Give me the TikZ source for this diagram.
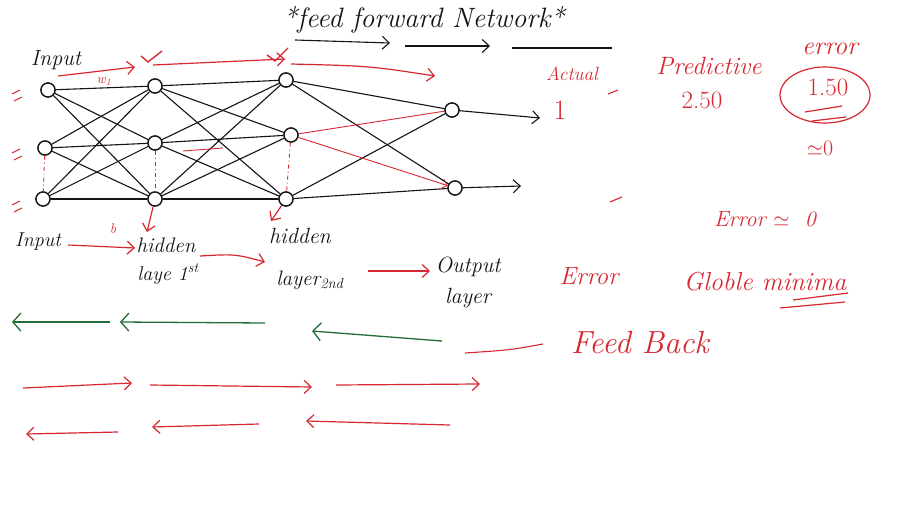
\documentclass[tikz,border=0pt]{standalone}
\usepackage{fontspec}
\usetikzlibrary{arrows.meta}
\definecolor{inkred}{RGB}{215,40,50}
\definecolor{inkgreen}{RGB}{35,110,55}
\definecolor{inkblack}{RGB}{20,20,20}
\tikzset{
  neuron/.style={circle,draw=inkblack,line width=1.3pt,minimum size=14pt,inner sep=0pt,fill=white},
  wire/.style={draw=inkblack,line width=1.1pt},
  redwire/.style={draw=inkred,line width=0.9pt},
  tip/.style={-{Straight Barb[length=7pt,width=13pt]}},
  redarr/.style={draw=inkred,line width=1.2pt,tip},
  greenarr/.style={draw=inkgreen,line width=1.3pt,-{Straight Barb[length=8pt,width=18pt]}},
  blk/.style={text=inkblack,font=\itshape\fontsize{21}{23}\selectfont,inner sep=1pt},
  rd/.style={text=inkred,inner sep=1pt},
  vdots/.style={draw=inkred,line width=0.9pt,dash pattern=on 4pt off 3pt on 1pt off 3pt},
}
\begin{document}
\begin{tikzpicture}[x=1pt,y=-1pt]
\useasboundingbox (0,0) rectangle (905,506);
\fill[white] (0,0) rectangle (905,506);
% ---------- neurons ----------
\node[neuron] (i1) at (48,90) {};
\node[neuron] (i2) at (45,148) {};
\node[neuron] (i3) at (43,199) {};
\node[neuron] (h1) at (155,86) {};
\node[neuron] (h2) at (155,143) {};
\node[neuron] (h3) at (155,199) {};
\node[neuron] (g1) at (286,80) {};
\node[neuron] (g2) at (291,135) {};
\node[neuron] (g3) at (286,199) {};
\node[neuron] (o1) at (452,110) {};
\node[neuron] (o2) at (455,188) {};
% ---------- connections ----------
\foreach \a in {i1,i2,i3}{\foreach \b in {h1,h2,h3}{\draw[wire] (\a) -- (\b);}}
\foreach \a in {h1,h2,h3}{\foreach \b in {g1,g2,g3}{\draw[wire] (\a) -- (\b);}}
\draw[wire] (g1) -- (o1);
\draw[wire] (g1) -- (o2);
\draw[wire] (g3) -- (o1);
\draw[wire] (g3) -- (o2);
\draw[redwire] (g2) -- (o1);
\draw[redwire,-{Straight Barb[length=5pt]}] (g2) -- (o2);
\draw[redwire] (183,151) -- (223,148);
% redraw neurons on top
\foreach \n in {i1,i2,i3,h1,h2,h3,g1,g2,g3,o1,o2}{\node[neuron] at (\n) {};}
% output arrows
\coordinate (out1) at (540,118);
\coordinate (out2) at (521,186);
\draw[wire,tip] (o1) -- (out1);
\draw[wire,tip] (o2) -- (out2);
% dotted verticals
\draw[vdots] (i2) -- (i3);
\draw[vdots] (h2) -- (h3);
\draw[vdots] (g2) -- (g3);
% ---------- title ----------
\node[text=inkblack,font=\itshape\fontsize{28}{30}\selectfont] (title) at (424,20) {*feed forward Network*};
\coordinate (t1a) at (295,40); \coordinate (t1b) at (390,43);
\coordinate (t2a) at (405,46); \coordinate (t2b) at (490,46);
\coordinate (t3a) at (512,48); \coordinate (t3b) at (612,48);
\draw[wire,tip] (t1a) -- (t1b);
\draw[wire,tip] (t2a) -- (t2b);
\draw[wire,line width=1.4pt] (t3a) -- (t3b);
% ---------- top red forward arrows ----------
\node[blk,font=\itshape\fontsize{22}{24}\selectfont] (inTop) at (56,60) {Input};
\coordinate (ra1) at (58,76); \coordinate (rb1) at (135,67);
\coordinate (ra2) at (153,65); \coordinate (rb2) at (285,59);
\coordinate (ra3) at (291,64); \coordinate (rb3) at (435,76);
\draw[redarr] (ra1) -- (rb1);
\draw[redarr] (ra2) -- (rb2);
\draw[redarr] (ra3) .. controls (370,66) .. (rb3);
\node[rd,font=\itshape\fontsize{14}{16}\selectfont] (w1) at (104,81) {w\textsubscript{1}};
% ticks
\draw[inkred,line width=1.4pt] (141,56) -- (148,62) -- (162,51);
\draw[inkred,line width=1.4pt] (267,55) -- (275,61) -- (288,48);
% equals marks on left
\foreach \y in {94,153,205}{\draw[inkred,line width=0.9pt] (12,\y) -- (20,\y-4) (14,\y+7) -- (22,\y+3);}
% ---------- bottom labels ----------
\node[blk,font=\itshape\fontsize{20}{22}\selectfont] (lin) at (38,242) {Input};
\node[blk] (lh1) at (166,245) {hidden};
\node[blk,font=\itshape\fontsize{20}{22}\selectfont] (lh1b) at (168,274) {laye 1\textsuperscript{st}};
\node[blk,font=\itshape\fontsize{22}{24}\selectfont] (lh2) at (300,236) {hidden};
\node[blk] (lh2b) at (310,280) {layer\textsubscript{2nd}};
\node[blk,font=\itshape\fontsize{22}{24}\selectfont] (lout) at (468,267) {Output};
\node[blk,font=\itshape\fontsize{22}{24}\selectfont] (lout2) at (468,298) {layer};
\node[rd,font=\itshape\fontsize{14}{16}\selectfont] (b) at (113,229) {b};
\coordinate (a1s) at (68,245); \coordinate (a1e) at (135,248);
\coordinate (a2s) at (200,256); \coordinate (a2e) at (265,262);
\coordinate (a3s) at (368,271); \coordinate (a3e) at (430,271);
\draw[redarr] (a1s) -- (a1e);
\draw[redarr] (a2s) .. controls (235,254) .. (a2e);
\draw[redarr] (a3s) -- (a3e);
\coordinate (d1) at (147,232); \coordinate (d2) at (271,221);
\draw[redarr] (h3) -- (d1);
\draw[redarr] (g3) -- (d2);
% green backward arrows
\draw[greenarr] (110,322) -- (12,322);
\draw[greenarr] (265,323) -- (120,322);
\draw[greenarr] (442,341) -- (312,331);
% ---------- right side ----------
\node[rd,font=\itshape\fontsize{19}{21}\selectfont] (actual) at (572,74) {Actual};
\node[rd,font=\fontsize{28}{30}\selectfont] (one) at (560,110) {1};
\node[rd,font=\itshape\fontsize{25}{27}\selectfont] (pred) at (709,66) {Predictive};
\node[rd,font=\fontsize{25}{27}\selectfont] (p250) at (702,100) {2.50};
\node[rd,font=\itshape\fontsize{26}{28}\selectfont] (err) at (830,49) {error};
\node[rd,font=\fontsize{25}{27}\selectfont] (e150) at (828,87) {1.50};
\draw[inkred,line width=1.2pt] (825,95) ellipse (45pt and 28pt);
\draw[inkred,line width=1.2pt] (805,112) -- (842,106) (812,121) -- (846,117);
\node[rd,font=\fontsize{22}{24}\selectfont] (approx0) at (820,148) {$\simeq$0};
\node[rd,font=\itshape\fontsize{22}{24}\selectfont] (erz) at (765,219) {Error $\simeq$ \ 0};
\draw[inkred,line width=1.1pt] (608,94) -- (618,90);
\draw[inkred,line width=1.1pt] (610,202) -- (622,197);
\node[rd,font=\itshape\fontsize{25}{27}\selectfont] (err2) at (589,276) {Error};
\node[rd,font=\itshape\fontsize{26}{28}\selectfont] (glob) at (765,282) {Globle minima};
\draw[inkred,line width=1.2pt] (793,300) -- (848,293) (780,308) -- (845,302);
\node[rd,font=\itshape\fontsize{32}{34}\selectfont] (fb) at (640,343) {Feed Back};
\draw[inkred,line width=1.1pt] (465,353) .. controls (510,350) .. (543,344);
% ---------- bottom red rows ----------
\draw[redarr] (23,388) -- (132,383);
\draw[redarr] (150,385) -- (312,387);
\draw[redarr] (336,385) -- (480,384);
\draw[redarr] (118,432) -- (26,434);
\draw[redarr] (259,424) -- (152,427);
\draw[redarr] (450,425) -- (306,421);
\end{tikzpicture}
\end{document}
